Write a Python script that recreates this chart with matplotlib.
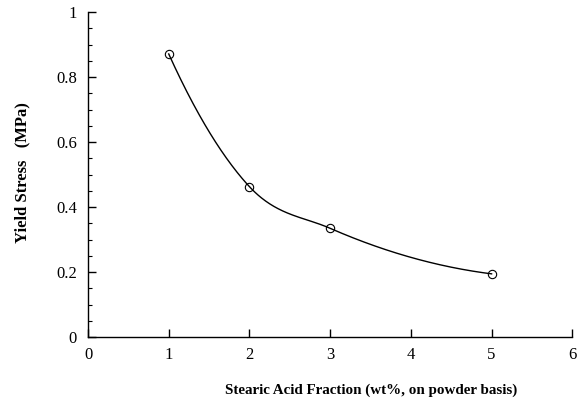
import numpy as np
import matplotlib
matplotlib.use("Agg")
import matplotlib.pyplot as plt
from matplotlib.ticker import MultipleLocator

stearic = [1, 2, 3, 5]
yield_stress = [0.871, 0.463, 0.335, 0.195]
xticks = [0, 1, 2, 3, 4, 5, 6]
yticks = [0, 0.2, 0.4, 0.6, 0.8, 1]
ytick_labels = ["0", "0.2", "0.4", "0.6", "0.8", "1"]

plt.rcParams['font.family'] = ['Liberation Serif', 'DejaVu Serif']


def smooth_curve(x, y, m=120):
    """Cubic Hermite curve through the points, slopes from local parabolas."""
    x = np.asarray(x, float)
    y = np.asarray(y, float)
    n = len(x)
    h = np.diff(x)
    d = np.diff(y) / h
    m_ = np.zeros(n)
    m_[0] = ((2 * h[0] + h[1]) * d[0] - h[0] * d[1]) / (h[0] + h[1])
    m_[-1] = ((2 * h[-1] + h[-2]) * d[-1] - h[-1] * d[-2]) / (h[-1] + h[-2])
    for k in range(1, n - 1):
        m_[k] = (h[k] * d[k - 1] + h[k - 1] * d[k]) / (h[k - 1] + h[k])
    X, Y = [], []
    t = np.linspace(0, 1, m)
    h00 = 2 * t**3 - 3 * t**2 + 1
    h10 = t**3 - 2 * t**2 + t
    h01 = -2 * t**3 + 3 * t**2
    h11 = t**3 - t**2
    for i in range(n - 1):
        X.append(x[i] + t * h[i])
        Y.append(h00 * y[i] + h10 * h[i] * m_[i] + h01 * y[i + 1] + h11 * h[i] * m_[i + 1])
    return np.concatenate(X), np.concatenate(Y)


fig = plt.figure(figsize=(5.81, 4.01), dpi=100)
ax = fig.add_axes([0.1515, 0.1589, 0.8335, 0.8112])

cx, cy = smooth_curve(stearic, yield_stress)
ax.plot(cx, cy, color='black', lw=1.0)
ax.plot(stearic, yield_stress, linestyle='none', marker='o', ms=6,
        mfc='none', mec='black', mew=0.8)

ax.set_xlim(0, 6)
ax.set_ylim(0, 1)
ax.set_xticks(xticks)
ax.set_xticklabels([str(t) for t in xticks])
ax.set_yticks(yticks)
ax.set_yticklabels(ytick_labels)
ax.yaxis.set_minor_locator(MultipleLocator(0.05))

for s in ['top', 'right']:
    ax.spines[s].set_visible(False)
for s in ['left', 'bottom']:
    ax.spines[s].set_linewidth(1.0)

ax.tick_params(axis='x', which='major', direction='in', length=6, width=1.0,
               labelsize=12, pad=7)
ax.tick_params(axis='y', which='major', direction='in', length=6, width=1.0,
               labelsize=12, pad=8)
ax.tick_params(axis='y', which='minor', direction='in', length=3, width=0.8)

ax.set_xlabel('Stearic Acid Fraction (wt%, on powder basis)', fontsize=10.8,
              fontweight='bold')
ax.xaxis.set_label_coords(0.585, -0.162)
ax.xaxis.label.set_va('center')
ax.set_ylabel('Yield Stress   (MPa)', fontsize=12, fontweight='bold')
ax.yaxis.set_label_coords(-0.135, 0.505)
ax.yaxis.label.set_va('center')

fig.savefig('out.png', dpi=100)
